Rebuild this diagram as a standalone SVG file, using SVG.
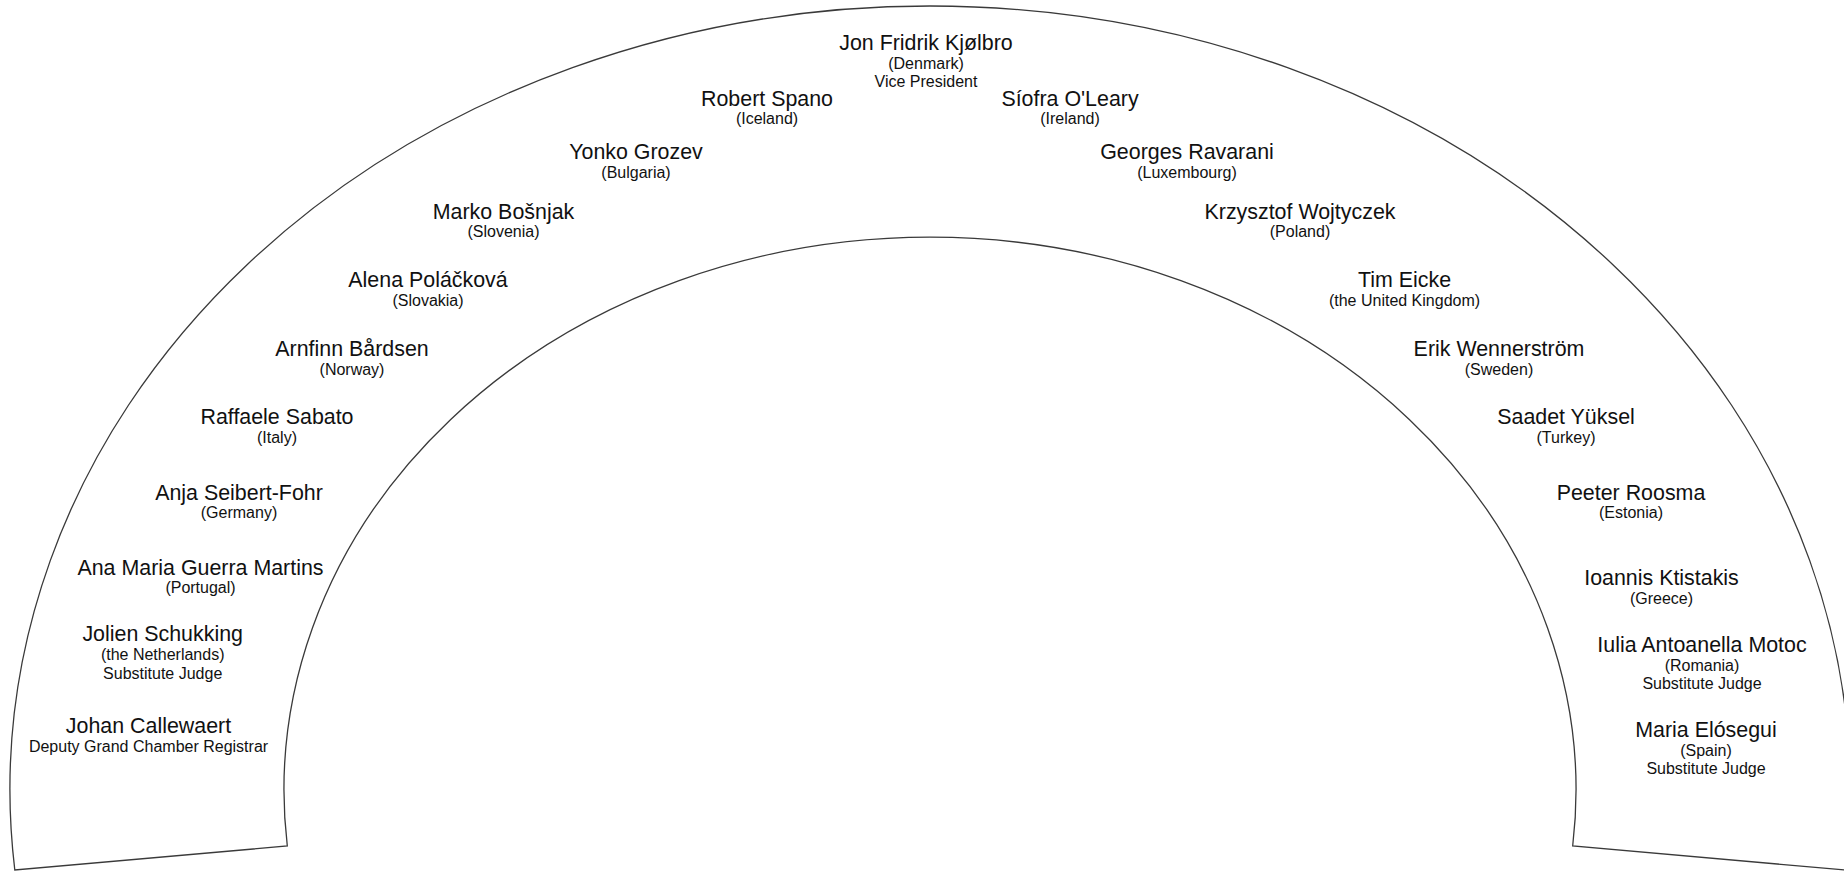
<svg xmlns="http://www.w3.org/2000/svg" width="1844" height="871" viewBox="0 0 1844 871">
<style>
text{font-family:"Liberation Sans",Arial,sans-serif;fill:#111;text-anchor:middle}
.n{font-size:21.4px}
.s{font-size:16px}
.outline{fill:none;stroke:#3a3a3a;stroke-width:1.3}
</style>
<rect width="1844" height="871" fill="#fff"/>
<g id="outline">
<path class="outline" d="M 14.8 870 A 920 784 0 1 1 1845.2 870 L 1572.7 846 A 646 553 0 1 0 287.3 846 Z"/>
</g>
<g id="connectors"></g>
<g id="kjolbro"><text class="n" x="926" y="50">Jon Fridrik Kjølbro</text><text class="s" x="926" y="69">(Denmark)</text><text class="s" x="926" y="87">Vice President</text></g>
<g id="spano"><text class="n" x="767" y="106">Robert Spano</text><text class="s" x="767" y="124">(Iceland)</text></g>
<g id="oleary"><text class="n" x="1070" y="106">Síofra O'Leary</text><text class="s" x="1070" y="124">(Ireland)</text></g>
<g id="grozev"><text class="n" x="636" y="159">Yonko Grozev</text><text class="s" x="636" y="177.5">(Bulgaria)</text></g>
<g id="ravarani"><text class="n" x="1187" y="159">Georges Ravarani</text><text class="s" x="1187" y="177.5">(Luxembourg)</text></g>
<g id="bosnjak"><text class="n" x="503.5" y="218.5">Marko Bošnjak</text><text class="s" x="503.5" y="237">(Slovenia)</text></g>
<g id="wojtyczek"><text class="n" x="1300" y="218.5">Krzysztof Wojtyczek</text><text class="s" x="1300" y="237">(Poland)</text></g>
<g id="polackova"><text class="n" x="428" y="287">Alena Poláčková</text><text class="s" x="428" y="306">(Slovakia)</text></g>
<g id="eicke"><text class="n" x="1404.5" y="287">Tim Eicke</text><text class="s" x="1404.5" y="306">(the United Kingdom)</text></g>
<g id="bardsen"><text class="n" x="352" y="355.5">Arnfinn Bårdsen</text><text class="s" x="352" y="374.5">(Norway)</text></g>
<g id="wennerstrom"><text class="n" x="1499" y="355.5">Erik Wennerström</text><text class="s" x="1499" y="374.5">(Sweden)</text></g>
<g id="sabato"><text class="n" x="277" y="423.5">Raffaele Sabato</text><text class="s" x="277" y="442.5">(Italy)</text></g>
<g id="yuksel"><text class="n" x="1566" y="423.5">Saadet Yüksel</text><text class="s" x="1566" y="442.5">(Turkey)</text></g>
<g id="seibert-fohr"><text class="n" x="239" y="499.5">Anja Seibert-Fohr</text><text class="s" x="239" y="518">(Germany)</text></g>
<g id="roosma"><text class="n" x="1631" y="499.5">Peeter Roosma</text><text class="s" x="1631" y="518">(Estonia)</text></g>
<g id="guerra-martins"><text class="n" x="200.5" y="574.5">Ana Maria Guerra Martins</text><text class="s" x="200.5" y="593">(Portugal)</text></g>
<g id="ktistakis"><text class="n" x="1661.5" y="585">Ioannis Ktistakis</text><text class="s" x="1661.5" y="604">(Greece)</text></g>
<g id="schukking"><text class="n" x="162.7" y="641">Jolien Schukking</text><text class="s" x="162.7" y="660">(the Netherlands)</text><text class="s" x="162.7" y="678.5">Substitute Judge</text></g>
<g id="motoc"><text class="n" x="1702" y="652">Iulia Antoanella Motoc</text><text class="s" x="1702" y="670.5">(Romania)</text><text class="s" x="1702" y="689">Substitute Judge</text></g>
<g id="callewaert"><text class="n" x="148.5" y="733">Johan Callewaert</text><text class="s" x="148.5" y="752">Deputy Grand Chamber Registrar</text></g>
<g id="elosegui"><text class="n" x="1706" y="737">Maria Elósegui</text><text class="s" x="1706" y="755.5">(Spain)</text><text class="s" x="1706" y="774">Substitute Judge</text></g>
</svg>
